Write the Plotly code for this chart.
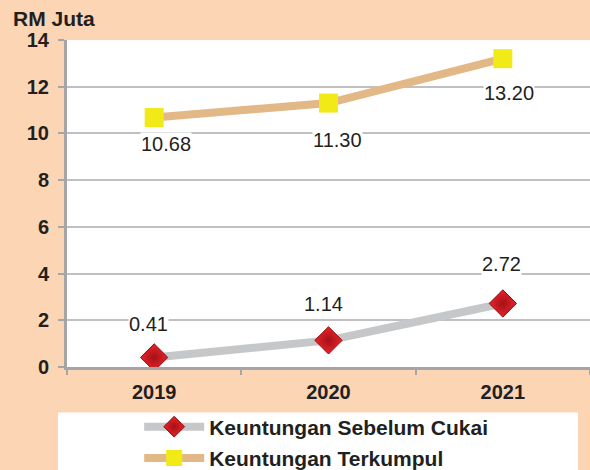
import plotly.graph_objects as go

years = ["2019", "2020", "2021"]
sebelum_cukai = [0.41, 1.14, 2.72]
terkumpul = [10.68, 11.30, 13.20]
label_sebelum = ["0.41", "1.14", "2.72"]
label_terkumpul = ["10.68", "11.30", "13.20"]
y_ticks = [0, 2, 4, 6, 8, 10, 12, 14]
series_names = ["Keuntungan Sebelum Cukai", "Keuntungan Terkumpul"]

FONT = "Liberation Sans, Arial, sans-serif"
TXT = "#231F20"
PEACH = "#FCD5B5"
AXIS = "#A5A5A8"
GRID = "#C0C0C4"

# label placement offsets (px) relative to each point, as placed in the original chart
shift_terkumpul = [(12, -26), (9, -37), (6, -34)]
shift_sebelum = [(-6, 33), (-5, 36), (-1, 39)]

fig = go.Figure()
fig.add_trace(go.Scatter(
    x=years, y=sebelum_cukai, mode="lines+markers", name=series_names[0],
    legendgroup="a",
    line=dict(color="#C6C7C9", width=8),
    marker=dict(symbol="diamond", size=21, color="#EE2228",
                gradient=dict(type="radial", color="#A01218"),
                line=dict(color="#8A0D12", width=1)),
))
fig.add_trace(go.Scatter(
    x=years, y=terkumpul, mode="lines+markers", name=series_names[1],
    legendgroup="b",
    line=dict(color="#E3B887", width=8),
    marker=dict(symbol="square", size=19, color="#F2EA16", line=dict(width=0)),
))

annotations = []
# category axis: annotations use the category index
for i, (yv, t) in enumerate(zip(terkumpul, label_terkumpul)):
    annotations.append(dict(x=i, y=yv, xref="x", yref="y", text=t, showarrow=False,
                            xshift=shift_terkumpul[i][0], yshift=shift_terkumpul[i][1],
                            bgcolor="white", borderpad=0,
                            font=dict(family=FONT, size=20, color=TXT)))
for i, (yv, t) in enumerate(zip(sebelum_cukai, label_sebelum)):
    annotations.append(dict(x=i, y=yv, xref="x", yref="y", text=t, showarrow=False,
                            xshift=shift_sebelum[i][0], yshift=shift_sebelum[i][1],
                            bgcolor="white", borderpad=0,
                            font=dict(family=FONT, size=20, color=TXT)))
annotations.append(dict(x=(54 - 67) / 523, y=(366.5 - 18) / 327, xref="paper", yref="paper",
                        text="RM Juta", showarrow=False, xanchor="center", yanchor="middle",
                        font=dict(family=FONT, size=21, color=TXT, weight="bold")))

fig.update_layout(
    width=590, height=470,
    margin=dict(l=67, r=0, t=40, b=103, autoexpand=False),
    paper_bgcolor=PEACH, plot_bgcolor="white",
    font=dict(family=FONT, color=TXT),
    showlegend=True,
    legend=dict(orientation="v", x=0.138, xanchor="left",
                yref="container", y=0.135, yanchor="top",
                bgcolor="rgba(0,0,0,0)", itemwidth=60, tracegroupgap=1,
                font=dict(family=FONT, size=21, color=TXT, weight="bold")),
    xaxis=dict(type="category", range=[-0.5, 2.5], showline=True, linecolor=AXIS, linewidth=3,
               ticks="outside", tickson="boundaries", ticklen=5, tickcolor=AXIS, tickwidth=2,
               ticklabelstandoff=5,
               showgrid=False, tickfont=dict(family=FONT, size=20, color=TXT, weight="bold")),
    yaxis=dict(range=[0, 14], tickvals=y_ticks, showgrid=True, gridcolor=GRID, gridwidth=1.5,
               showline=True, linecolor=AXIS, linewidth=3, ticks="outside", ticklen=6,
               tickcolor=AXIS, tickwidth=2, zeroline=False, ticklabelstandoff=5,
               tickfont=dict(family=FONT, size=20, color=TXT, weight="bold")),
    shapes=[dict(type="rect", xref="paper", yref="paper", x0=-0.0172, x1=0.977, y0=-0.35, y1=-0.139,
                 fillcolor="white", line=dict(width=0), layer="below")],
    annotations=annotations,
)

fig.write_html("out.html", config=dict(displayModeBar=False),
               post_script="document.body.style.margin='0';document.body.style.overflow='hidden';")
